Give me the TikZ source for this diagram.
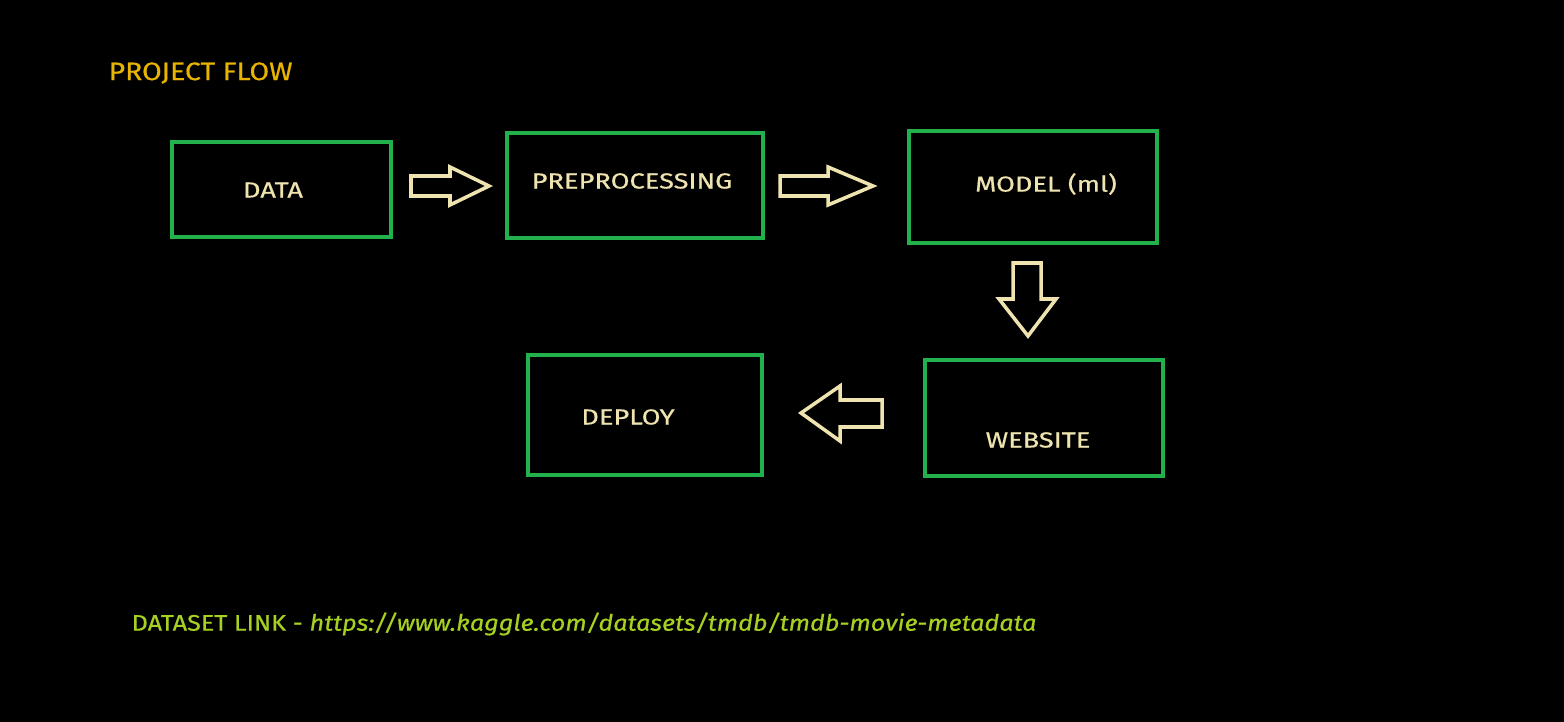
\documentclass[tikz,border=0pt]{standalone}
\usepackage{fontspec}
\setmainfont{Fira Sans}
\newfontfamily\widefont[FakeStretch=1.25,FakeBold=0.6]{Fira Sans}
\newfontfamily\midfont[FakeStretch=1.12,FakeBold=0.5]{Fira Sans}
\definecolor{boxgreen}{HTML}{22B14C}
\definecolor{cream}{HTML}{EFE4B0}
\definecolor{gold}{HTML}{E8B400}
\definecolor{lime}{HTML}{A6D022}
\begin{document}
\begin{tikzpicture}[x=0.01cm,y=-0.01cm,
  stage/.style={draw=boxgreen,line width=1.2pt},
  lbl/.style={text=cream,font=\widefont\fontsize{6.2}{7}\selectfont,inner sep=0pt},
  blockarrow/.style={draw=cream,line width=1pt,line join=miter}]
\fill[black] (0,0) rectangle (1564,722);
\useasboundingbox (0,0) rectangle (1564,722);
\node[anchor=west,text=gold,font=\midfont\fontsize{7.2}{8}\selectfont,inner sep=0pt] (title) at (108,73) {PROJECT FLOW};
% boxes
\draw[stage] (172,142) rectangle (391,237);
\draw[stage] (507,133) rectangle (763,238);
\draw[stage] (909,131) rectangle (1157,243);
\draw[stage] (925,360) rectangle (1163,476);
\draw[stage] (528,355) rectangle (762,475);
\node[lbl] (data) at (273,190) {DATA};
\node[lbl] (prep) at (632,181) {PREPROCESSING};
\node[lbl] (model) at (1046,184) {MODEL (ml)};
\node[lbl] (web) at (1038,440) {WEBSITE};
\node[lbl] (deploy) at (628,417) {DEPLOY};
% block arrows
\draw[blockarrow] (411,176) -- (450,176) -- (450,167) -- (489,186) -- (450,205) -- (450,196) -- (411,196) -- cycle;
\draw[blockarrow] (780,176) -- (828,176) -- (828,167) -- (873,186) -- (828,205) -- (828,196) -- (780,196) -- cycle;
\draw[blockarrow] (1013,263) -- (1041,263) -- (1041,299) -- (1056,299) -- (1028,336) -- (999,299) -- (1013,299) -- cycle;
\draw[blockarrow] (882,400) -- (840,400) -- (840,386) -- (801,413) -- (840,441) -- (840,427) -- (882,427) -- cycle;
\node[anchor=west,inner sep=0pt,font=\midfont\fontsize{6.4}{7}\selectfont,text=lime] (link) at (131,624) {DATASET LINK - \itshape https://www.kaggle.com/datasets/tmdb/tmdb-movie-metadata};
\end{tikzpicture}
\end{document}
